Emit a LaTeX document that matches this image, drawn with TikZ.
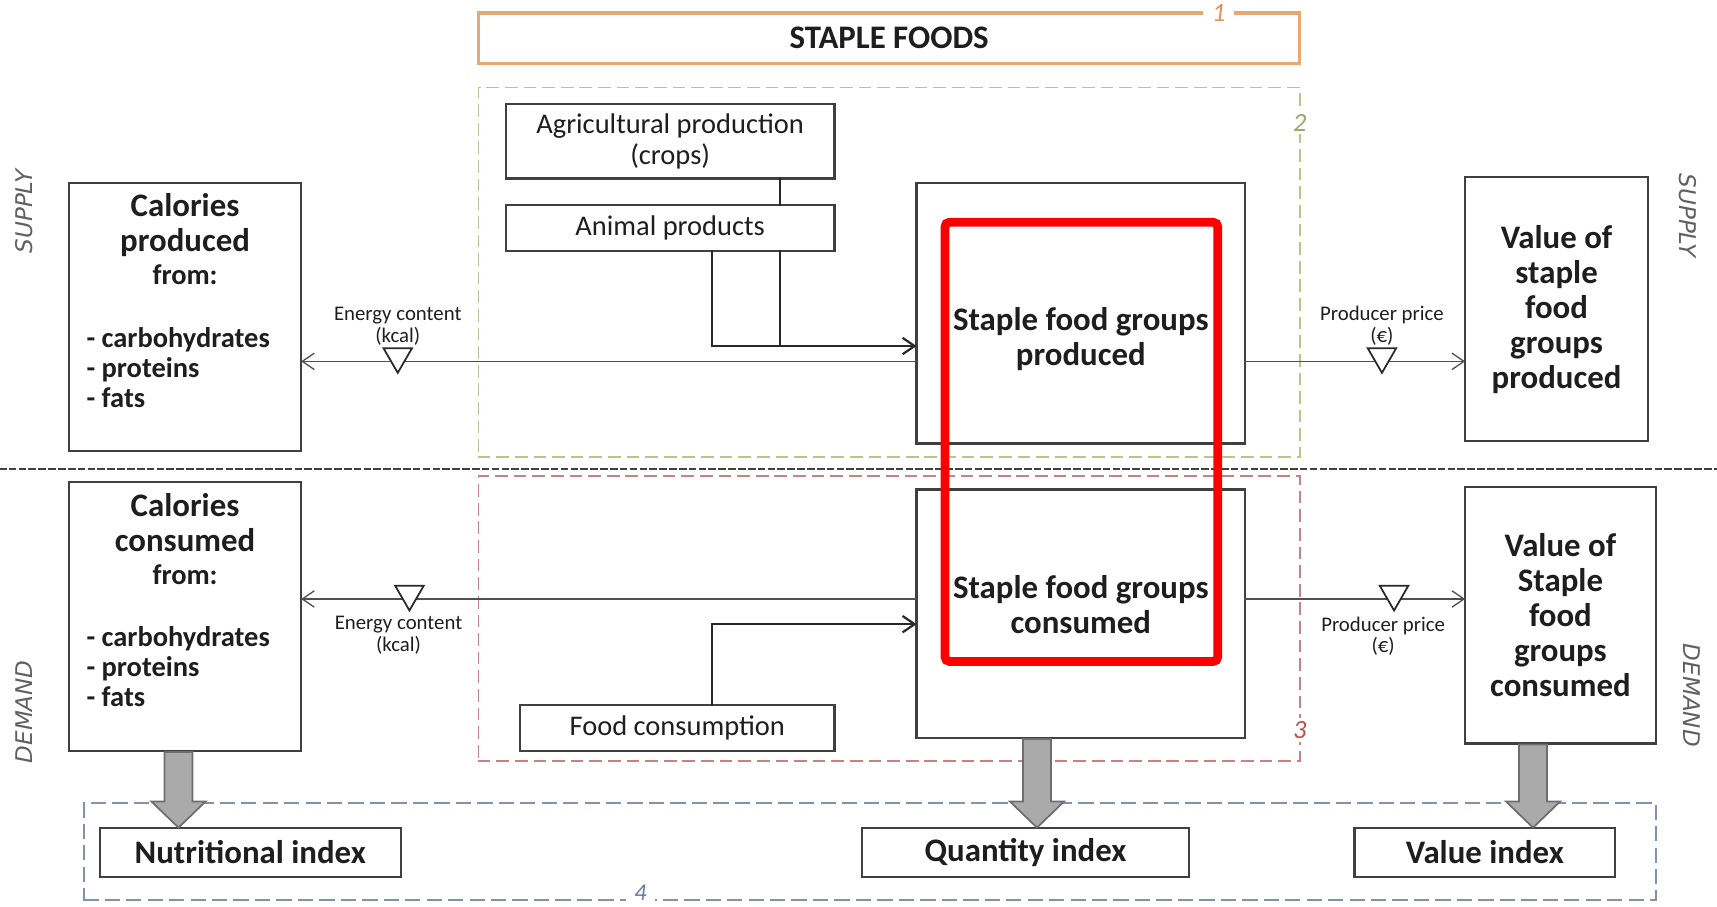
\documentclass[tikz,border=0pt]{standalone}
\usepackage{tikz}
\usetikzlibrary{shapes.geometric,shapes.arrows,arrows,arrows.meta,positioning}
\usepackage{fontspec}
\setmainfont{Carlito}
\newfontfamily\sidefont{DejaVu Sans}

\begin{document}
\begin{tikzpicture}[x=0.5pt,y=-0.5pt,line cap=rect,
	mainbox/.style={draw=custcol_40_40_40, line width=1pt, fill=white, inner sep=0, outer sep=0},
	boldtxt/.style={inner sep=0, outer sep=0, align=center, text=custcol_1e_1e_1e, font=\fontsize{15}{16}\selectfont\bfseries},
	listtxt/.style={inner sep=0, outer sep=0, align=left, text=custcol_1e_1e_1e, font=\fontsize{13}{13.75}\selectfont\bfseries},
	plaintxt/.style={inner sep=0, outer sep=0, align=center, text=custcol_1e_1e_1e, font=\fontsize{13}{14}\selectfont},
	tinytxt/.style={inner sep=0, outer sep=0, align=center, text=custcol_1e_1e_1e, font=\fontsize{9.5}{10}\selectfont},
	sidetxt/.style={inner sep=0, text=custcol_60_60_60, font=\sidefont\itshape\fontsize{10.5}{10.5}\selectfont},
	numlbl/.style={fill=white, inner sep=1.5pt, font=\itshape\fontsize{12}{12}\selectfont},
	groupbox/.style={dash pattern=on 5pt off 3.5pt, line width=0.8pt, inner sep=0, outer sep=0},
	flow/.style={-{Straight Barb[length=5.5pt,width=7.5pt]}, line width=0.6pt, draw=custcol_50_50_50},
	feed/.style={line width=1pt, draw=custcol_28_28_28},
	marker/.style={regular polygon, regular polygon sides=3, shape border rotate=180, draw=custcol_28_28_28, fill=white, line width=0.8pt, minimum size=15pt, inner sep=0, yshift=2.25pt},
	blockarr/.style={single arrow, rotate=-90, anchor=tail, draw=custcol_6e_6e_6e, fill=custcol_aa_aa_aa, line width=0.8pt, minimum width=24pt, single arrow head extend=6pt, single arrow head indent=0pt, single arrow tip angle=92, inner xsep=0, inner ysep=6pt},
	highlight/.style={draw=custcol_ff_00_00, line width=4pt, rounded corners=2pt, inner sep=0, outer sep=0}]
					\definecolor{custcol_40_40_40}{RGB}{64, 64, 64}
					\definecolor{custcol_28_28_28}{RGB}{40, 40, 40}
					\definecolor{custcol_50_50_50}{RGB}{80, 80, 80}
					\definecolor{custcol_1e_1e_1e}{RGB}{30, 30, 30}
					\definecolor{custcol_60_60_60}{RGB}{96, 96, 96}
					\definecolor{custcol_6e_6e_6e}{RGB}{110, 110, 110}
					\definecolor{custcol_aa_aa_aa}{RGB}{170, 170, 170}
					\definecolor{custcol_e8_a8_70}{RGB}{232, 168, 112}
					\definecolor{custcol_e0_90_58}{RGB}{224, 144, 88}
					\definecolor{custcol_be_c3_8c}{RGB}{190, 195, 140}
					\definecolor{custcol_96_aa_6e}{RGB}{150, 170, 110}
					\definecolor{custcol_c8_82_82}{RGB}{200, 130, 130}
					\definecolor{custcol_be_50_50}{RGB}{190, 80, 80}
					\definecolor{custcol_82_91_af}{RGB}{130, 145, 175}
					\definecolor{custcol_64_78_aa}{RGB}{100, 120, 170}
					\definecolor{custcol_ff_00_00}{RGB}{255, 0, 0}
					\useasboundingbox (0,0) rectangle (1568,828);
					% group frames
					\node[groupbox, draw=custcol_be_c3_8c, minimum width=375pt, minimum height=168.5pt] (grp2) at (812,248.5) {};
					\node[groupbox, draw=custcol_c8_82_82, minimum width=375pt, minimum height=130pt] (grp3) at (812,565) {};
					\node[groupbox, draw=custcol_82_91_af, line width=1pt, dash pattern=on 6pt off 3.8pt, minimum width=717.5pt, minimum height=44.5pt] (grp4) at (794.5,777.5) {};
					\node[draw=custcol_e8_a8_70, line width=1.5pt, fill=white, minimum width=375pt, minimum height=23pt, inner sep=0, outer sep=0] (staple) at (812,35) {};
					\node[boldtxt] (stapletxt) at (staple.center) {STAPLE FOODS};
					\node[numlbl, text=custcol_e0_90_58, inner xsep=4pt] (num1) at ([xshift=150.5pt]staple.north) {1};
					\node[numlbl, text=custcol_96_aa_6e] (num2) at ([yshift=-16pt]grp2.north east) {2};
					\node[numlbl, text=custcol_be_50_50] (num3) at ([yshift=14pt]grp3.south east) {3};
					\node[numlbl, text=custcol_64_78_aa, inner xsep=4pt, font=\itshape\fontsize{11}{11}\selectfont] (num4) at ([xshift=254pt,yshift=3.5pt]grp4.south west) {4};
					% separator
					\draw[custcol_40_40_40, line width=1pt, dash pattern=on 2.5pt off 2pt] (0,428) -- (1568,428);
					\node[sidetxt, rotate=90] (supl) at (22,193) {SUPPLY};
					\node[sidetxt, rotate=-90] (supr) at (1541,197) {SUPPLY};
					\node[sidetxt, rotate=90] (deml) at (22,650) {DEMAND};
					\node[sidetxt, rotate=-90] (demr) at (1545,635) {DEMAND};
					% supply row
					\node[mainbox, minimum width=150pt, minimum height=34pt, plaintxt] (agri) at (612,129) {Agricultural production\\(crops)};
					\node[mainbox, minimum width=150pt, minimum height=21pt, plaintxt] (animal) at (612,208) {Animal products};
					\node[mainbox, minimum width=150pt, minimum height=119pt] (prod) at (987,286) {};
					\node[boldtxt] (prodtxt) at (987,310) {Staple food groups\\produced};
					\node[mainbox, minimum width=106pt, minimum height=122.5pt] (calprod) at (169,289.5) {};
					\node[boldtxt] (calprodtxt) at (169,218) {Calories\\produced\\[-1pt]{\fontsize{13}{15}\selectfont from:}};
					\node[listtxt, anchor=west] (calprodlist) at (79,336) {- carbohydrates\\- proteins\\- fats};
					\node[mainbox, boldtxt, minimum width=83.5pt, minimum height=120.5pt] (valprod) at (1421.5,282.5) {Value of\\staple\\food\\groups\\produced};
					\draw[feed] ([xshift=50pt]agri.south) -- ([xshift=50pt]animal.north);
					\coordinate (prodin) at ([yshift=-15pt]prod.west);
					\draw[feed] ([xshift=50pt]animal.south) -- ([xshift=50pt]animal.south |- prodin);
					\draw[feed, -{Straight Barb[length=5.5pt,width=7.5pt]}] ([xshift=19pt]animal.south) |- (prodin);
					\coordinate (supL) at ([yshift=-22pt]prod.west);
					\coordinate (supR) at ([yshift=-22pt]prod.east);
					\draw[flow] (supL) -- node[marker, pos=0.843] (tri1) {} (supL -| calprod.east);
					\draw[flow] (supR) -- node[marker, pos=0.622] (tri2) {} (supR -| valprod.west);
					\node[tinytxt, above=1pt of tri1] (energy1) {Energy content\\(kcal)};
					\node[tinytxt, above=1pt of tri2] (price1) {Producer price\\(€)};
					% demand row
					\node[mainbox, minimum width=150pt, minimum height=113.5pt] (cons) at (987,560.5) {};
					\node[boldtxt] (constxt) at (987,552) {Staple food groups\\consumed};
					\node[mainbox, minimum width=106pt, minimum height=123pt] (calcons) at (169,563) {};
					\node[boldtxt] (calconstxt) at (169,492) {Calories\\consumed\\[-1pt]{\fontsize{13}{15}\selectfont from:}};
					\node[listtxt, anchor=west] (calconslist) at (79,609) {- carbohydrates\\- proteins\\- fats};
					\node[mainbox, boldtxt, minimum width=87pt, minimum height=117pt] (valcons) at (1425,562) {Value of\\Staple\\food\\groups\\consumed};
					\node[mainbox, minimum width=143.5pt, minimum height=21pt, plaintxt] (foodcons) at (618.5,665) {Food consumption};
					\coordinate (demL) at ([yshift=6.75pt]cons.west);
					\coordinate (demR) at ([yshift=6.75pt]cons.east);
					\coordinate (consin) at ([yshift=-4.75pt]cons.west);
					\draw[flow] (demL) -- node[marker, pos=0.824] (tri3) {} (demL -| calcons.east);
					\draw[flow] (demR) -- node[marker, pos=0.677] (tri4) {} (demR -| valcons.west);
					\node[tinytxt, below=2pt of tri3, xshift=-5pt] (energy2) {Energy content\\(kcal)};
					\node[tinytxt, below=2pt of tri4, xshift=-5pt] (price2) {Producer price\\(€)};
					\draw[feed, -{Straight Barb[length=5.5pt,width=7.5pt]}] ([xshift=15.75pt]foodcons.north) |- (consin);
					% indices
					\node[mainbox, boldtxt, minimum width=137.5pt, minimum height=22.5pt] (nutri) at (228.5,778.5) {Nutritional index};
					\node[mainbox, boldtxt, minimum width=149.5pt, minimum height=22.5pt] (quant) at (936.5,778.5) {Quantity index};
					\node[mainbox, boldtxt, minimum width=119pt, minimum height=22.5pt] (valind) at (1356,778.5) {Value index};
					\node[blockarr, minimum height=34.5pt] (nutriarr) at ([xshift=-3pt]calcons.south) {};
					\node[blockarr, minimum height=40.5pt] (quantarr) at ([xshift=-20pt]cons.south) {};
					\node[blockarr, minimum height=38pt] (valarr) at ([xshift=-12.5pt]valcons.south) {};
					% highlight
					\node[highlight, minimum width=124.5pt, minimum height=200.5pt] (hilite) at (987.5,403.5) {};
				\end{tikzpicture}
\end{document}
